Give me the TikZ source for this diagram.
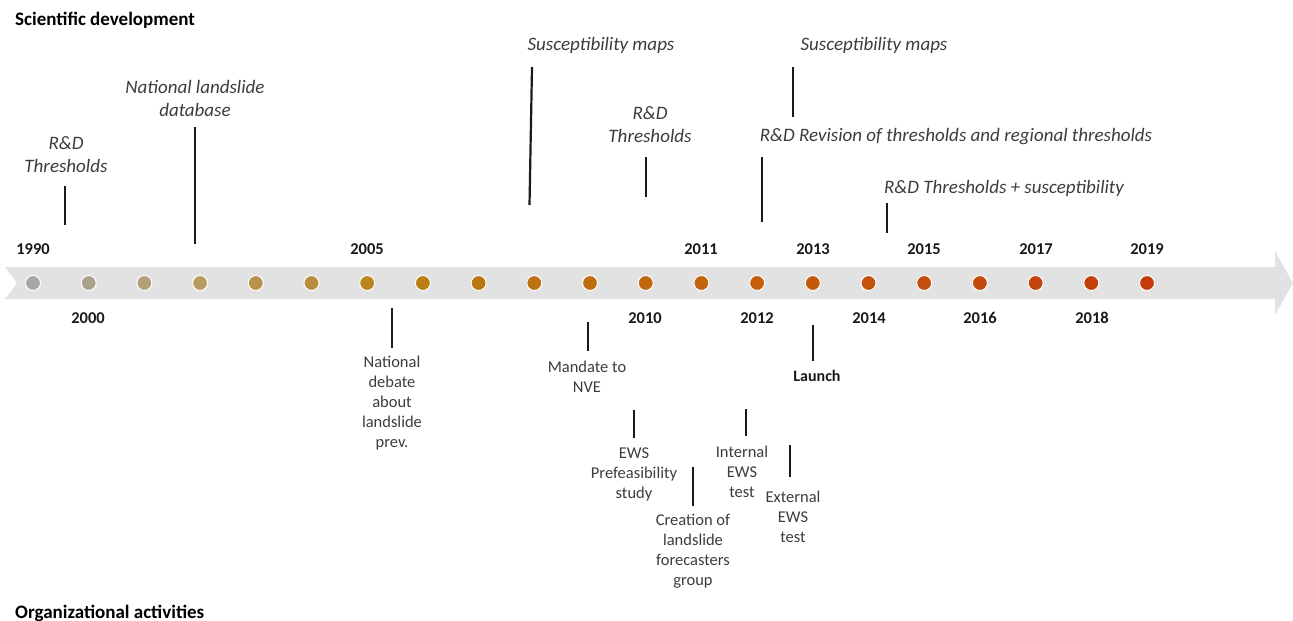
\documentclass[tikz,border=0pt]{standalone}
\usepackage{fontspec}
\setmainfont{Carlito}
\usetikzlibrary{positioning}
\definecolor{bandgray}{HTML}{E2E2E2}
\definecolor{txtgray}{HTML}{3C3C3C}
\definecolor{tickcol}{HTML}{1A1A1A}
\definecolor{d0}{HTML}{A6A6A6}
\definecolor{d1}{HTML}{ACA18C}
\definecolor{d2}{HTML}{B39F78}
\definecolor{d3}{HTML}{B99A63}
\definecolor{d4}{HTML}{B9914B}
\definecolor{d5}{HTML}{BA8C3E}
\definecolor{d6}{HTML}{BB861F}
\definecolor{d7}{HTML}{BA7E12}
\definecolor{d8}{HTML}{B87710}
\definecolor{d9}{HTML}{BC7210}
\definecolor{d10}{HTML}{BE6D0E}
\definecolor{d11}{HTML}{C1680C}
\definecolor{d12}{HTML}{C3630C}
\definecolor{d13}{HTML}{C45E0B}
\definecolor{d14}{HTML}{C5590B}
\definecolor{d15}{HTML}{C4530B}
\definecolor{d16}{HTML}{C44E0B}
\definecolor{d17}{HTML}{C4490B}
\definecolor{d18}{HTML}{C4440B}
\definecolor{d19}{HTML}{C43F0C}
\definecolor{d20}{HTML}{C43A0C}
\tikzset{
  header/.style={font=\fontsize{19}{22}\selectfont\bfseries, text=black, anchor=west, inner sep=0pt},
  yearlbl/.style={font=\fontsize{16.5}{19}\selectfont\bfseries, text=black!90, inner sep=0pt},
  sciencelbl/.style={font=\fontsize{19}{23}\selectfont\itshape, text=txtgray, align=center, inner sep=0pt},
  orglbl/.style={font=\fontsize{16.5}{20}\selectfont, text=txtgray, align=center, inner sep=0pt},
  launchlbl/.style={font=\fontsize{16}{20}\selectfont\bfseries, text=black!90, inner sep=0pt},
  tickline/.style={draw=tickcol, line width=2.2pt},
  yeardot/.style={circle, draw=white, line width=1pt, minimum size=15pt, inner sep=0pt}
}
\begin{document}
\begin{tikzpicture}[x=1pt,y=-1pt]
\useasboundingbox (0,0) rectangle (1293,621);
% band arrow
\fill[bandgray] (5,267) -- (1275,267) -- (1275,251) -- (1293,283) -- (1275,315) -- (1275,299) -- (5,299) -- (17,283) -- cycle;
% dots
\foreach \i in {0,...,20}{
  \node[yeardot, fill=d\i] (dot\i) at ({33+\i*55.7},283) {};
}
% year labels
\node[yearlbl] (y1990) at (33,249) {1990};
\node[yearlbl] (y2005) at (367,249) {2005};
\node[yearlbl] (y2011) at (701,249) {2011};
\node[yearlbl] (y2013) at (813,249) {2013};
\node[yearlbl] (y2015) at (924,249) {2015};
\node[yearlbl] (y2017) at (1036,249) {2017};
\node[yearlbl] (y2019) at (1147,249) {2019};
\node[yearlbl] (y2000) at (88,318) {2000};
\node[yearlbl] (y2010) at (645,318) {2010};
\node[yearlbl] (y2012) at (757,318) {2012};
\node[yearlbl] (y2014) at (869,318) {2014};
\node[yearlbl] (y2016) at (980,318) {2016};
\node[yearlbl] (y2018) at (1092,318) {2018};
% headers
\node[header] (hsci) at (15,20) {Scientific development};
\node[header] (horg) at (15,613) {Organizational activities};
% scientific development
\node[sciencelbl] (s1) at (66,154.5) {R\&D\\Thresholds};
\coordinate (s1a) at (65,186); \coordinate (s1b) at (65,225);
\draw[tickline] (s1a) -- (s1b);
\node[sciencelbl] (s2) at (195,98.5) {National landslide\\database};
\coordinate (s2a) at (195,127); \coordinate (s2b) at (195,244);
\draw[tickline] (s2a) -- (s2b);
\node[sciencelbl] (s3) at (601,45) {Susceptibility maps};
\coordinate (s3a) at (532,67); \coordinate (s3b) at (529.5,205);
\draw[tickline] (s3a) -- (s3b);
\node[sciencelbl] (s4) at (650,124.5) {R\&D\\Thresholds};
\coordinate (s4a) at (646,157); \coordinate (s4b) at (646,197);
\draw[tickline] (s4a) -- (s4b);
\node[sciencelbl] (s5) at (874,45) {Susceptibility maps};
\coordinate (s5a) at (793,67); \coordinate (s5b) at (793,117);
\draw[tickline] (s5a) -- (s5b);
\node[sciencelbl] (s6) at (956,137) {R\&D Revision of thresholds and regional thresholds};
\coordinate (s6a) at (762,157); \coordinate (s6b) at (762,222);
\draw[tickline] (s6a) -- (s6b);
\node[sciencelbl] (s7) at (1004,188) {R\&D Thresholds + susceptibility};
\coordinate (s7a) at (887,203); \coordinate (s7b) at (887,233);
\draw[tickline] (s7a) -- (s7b);
% organizational activities
\coordinate (o1a) at (392,308); \coordinate (o1b) at (392,348);
\draw[tickline] (o1a) -- (o1b);
\node[orglbl] (o1) at (392,403) {National\\debate\\about\\landslide\\prev.};
\coordinate (o2a) at (588,322); \coordinate (o2b) at (588,351);
\draw[tickline] (o2a) -- (o2b);
\node[orglbl] (o2) at (587,377) {Mandate to\\NVE};
\coordinate (o3a) at (634,410); \coordinate (o3b) at (634,438);
\draw[tickline] (o3a) -- (o3b);
\node[orglbl] (o3) at (634,474) {EWS\\Prefeasibility\\study};
\coordinate (o4a) at (693,467); \coordinate (o4b) at (693,506);
\draw[tickline] (o4a) -- (o4b);
\node[orglbl] (o4) at (693,551) {Creation of\\landslide\\forecasters\\group};
\coordinate (o5a) at (746,409); \coordinate (o5b) at (746,436);
\draw[tickline] (o5a) -- (o5b);
\node[orglbl] (o5) at (742,472) {Internal\\EWS\\test};
\coordinate (o6a) at (790,445); \coordinate (o6b) at (790,477);
\draw[tickline] (o6a) -- (o6b);
\node[orglbl] (o6) at (793,517) {External\\EWS\\test};
\coordinate (o7a) at (813,325); \coordinate (o7b) at (813,361);
\draw[tickline] (o7a) -- (o7b);
\node[launchlbl] (o7) at (817,376) {Launch};
\end{tikzpicture}
\end{document}
